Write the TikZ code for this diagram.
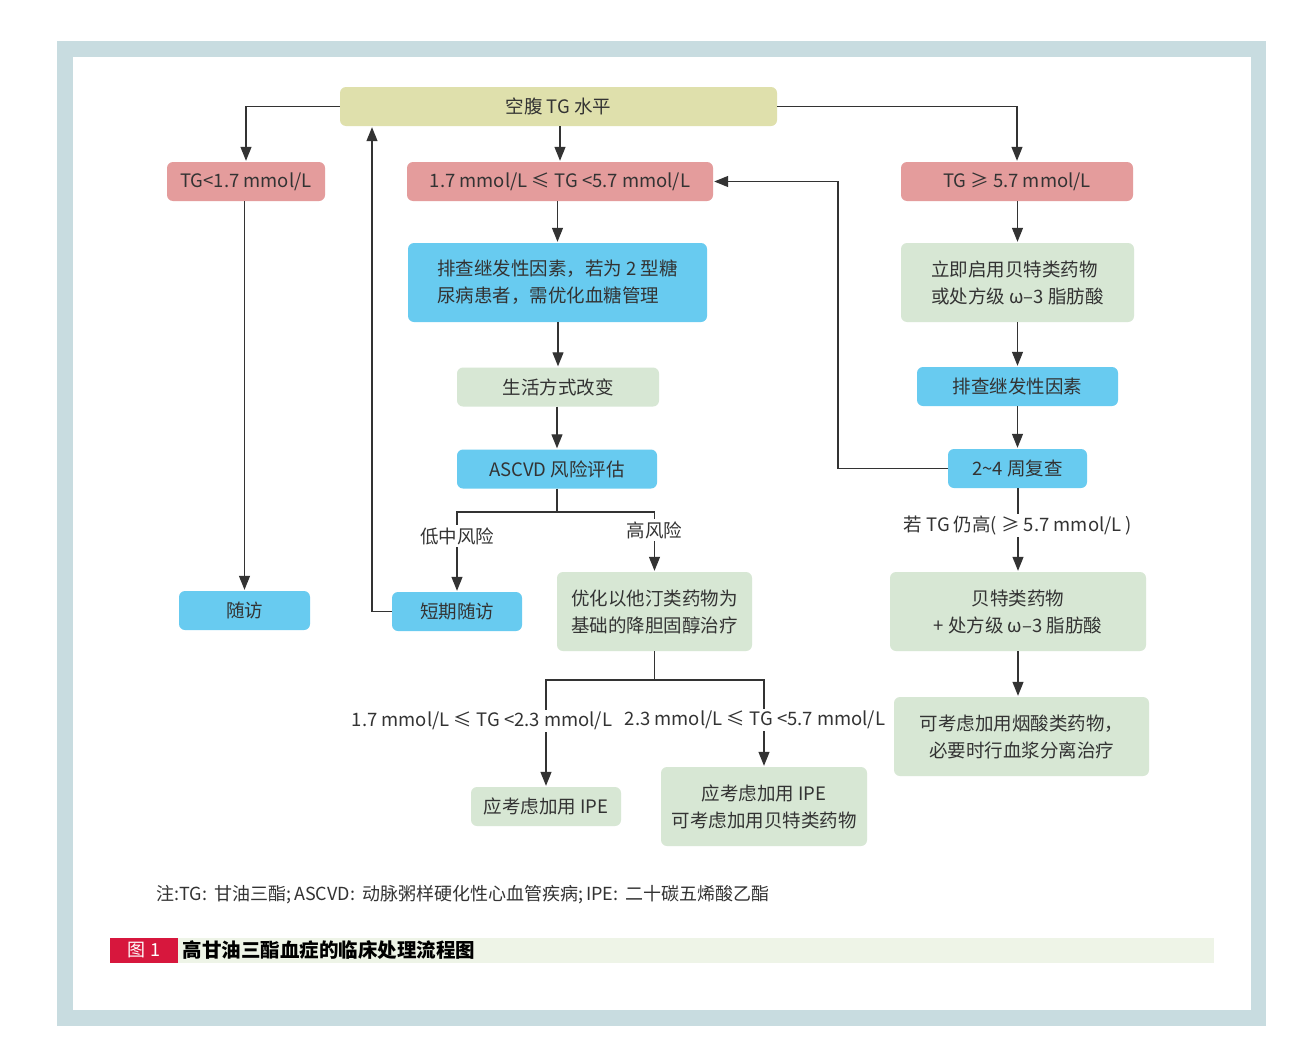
\documentclass[tikz,border=0pt]{standalone}
\usepackage{fontspec}
\setmainfont{Noto Sans CJK SC}
\usetikzlibrary{arrows.meta}
\definecolor{topyellow}{HTML}{DFE0AC}
\definecolor{tgpink}{HTML}{E49C9C}
\definecolor{stepblue}{HTML}{68CBF0}
\definecolor{treatgreen}{HTML}{D7E7D4}
\definecolor{framegray}{HTML}{C8DCE0}
\definecolor{capgreen}{HTML}{EEF4E7}
\definecolor{capred}{HTML}{D7173D}
\definecolor{textgray}{HTML}{333333}
\definecolor{linegray}{HTML}{333333}
\begin{document}
\begin{tikzpicture}[
  x=1pt, y=-1pt,
  every node/.style={text=textgray, font=\fontsize{18.5}{27}\selectfont},
  flowbox/.style={rounded corners=6pt, minimum height=39pt, inner sep=0pt, align=center},
  topbox/.style={flowbox, fill=topyellow},
  tgbox/.style={flowbox, fill=tgpink},
  bluebox/.style={flowbox, fill=stepblue},
  greenbox/.style={flowbox, fill=treatgreen},
  edgelab/.style={fill=white, inner sep=2pt},
  arr/.style={draw=linegray, line width=1.2pt, -{Triangle[width=11pt,length=14pt]}, shorten >=1pt},
  link/.style={draw=linegray, line width=1.2pt}
]
\useasboundingbox (0,0) rectangle (1312,1060);
\fill[framegray] (57,41) rectangle (1266,1026);
\fill[white] (73,57) rectangle (1251,1010);

\node[topbox, minimum width=437pt] (fasting) at (558.5,106.5) {空腹 TG 水平};
\node[tgbox, minimum width=158pt] (lowtg) at (246,181.5) {TG<1.7 mmol/L};
\node[tgbox, minimum width=306pt] (midtg) at (560,181.5) {1.7 mmol/L ≤ TG <5.7 mmol/L};
\node[tgbox, minimum width=232pt] (hightg) at (1017,181.5) {TG ≥ 5.7 mmol/L};

\node[bluebox, minimum width=299pt, minimum height=79pt, align=left] (secondary) at (557.5,282.5) {排查继发性因素，若为 2 型糖\\尿病患者，需优化血糖管理};
\node[greenbox, minimum width=233pt, minimum height=79pt, align=left] (fibrate) at (1017.5,282.5) {立即启用贝特类药物\\或处方级 ω–3 脂肪酸};
\node[greenbox, minimum width=202pt] (lifestyle) at (558,387) {生活方式改变};
\node[bluebox, minimum width=201pt] (screen) at (1017.5,386.5) {排查继发性因素};
\node[bluebox, minimum width=200pt] (ascvd) at (557,469) {ASCVD 风险评估};
\node[bluebox, minimum width=139pt] (recheck) at (1017.5,468.5) {2\textasciitilde4 周复查};

\node[bluebox, minimum width=131pt] (followup) at (244.5,610.5) {随访};
\node[bluebox, minimum width=130pt] (shortfu) at (457,611.5) {短期随访};
\node[greenbox, minimum width=195pt, minimum height=79pt] (statin) at (654.5,611.5) {优化以他汀类药物为\\基础的降胆固醇治疗};
\node[greenbox, minimum width=256pt, minimum height=79pt] (combo) at (1018,611.5) {贝特类药物\\+ 处方级 ω–3 脂肪酸};
\node[greenbox, minimum width=255pt, minimum height=79pt] (niacin) at (1021.5,736.5) {可考虑加用烟酸类药物，\\必要时行血浆分离治疗};
\node[greenbox, minimum width=150pt] (ipeone) at (546,806.5) {应考虑加用 IPE};
\node[greenbox, minimum width=206pt, minimum height=79pt] (ipetwo) at (764,806.5) {应考虑加用 IPE\\可考虑加用贝特类药物};

\coordinate (backup) at (372,0);
\coordinate (loopx) at (838,0);
\coordinate (riskfork) at (557,512);
\coordinate (statfork) at (654.5,680);

\draw[arr] (fasting.west) -| (lowtg.north);
\draw[arr] (fasting.south -| midtg.north) -- (midtg.north);
\draw[arr] (fasting.east) -| (hightg.north);
\draw[arr] (lowtg.south -| followup.north) -- (followup.north);
\draw[arr] (shortfu.west) -| (backup |- fasting.south);
\draw[arr] (recheck.west) -| (loopx |- midtg.east) -- (midtg.east);

\draw[arr] (midtg.south -| secondary.north) -- (secondary.north);
\draw[arr] (secondary.south -| lifestyle.north) -- (lifestyle.north);
\draw[arr] (lifestyle.south -| ascvd.north) -- (ascvd.north);
\draw[link] (ascvd.south) -- (riskfork);
\draw[arr] (riskfork) -| node[edgelab, pos=0.65] {低中风险} (shortfu.north);
\draw[arr] (riskfork) -| node[edgelab, pos=0.65] {高风险} (statin.north);
\draw[link] (statin.south) -- (statfork);
\draw[arr] (statfork) -| node[edgelab, pos=0.69, xshift=-64pt] {1.7 mmol/L ≤ TG <2.3 mmol/L} (ipeone.north);
\draw[arr] (statfork) -| node[edgelab, pos=0.73, xshift=-9pt] {2.3 mmol/L ≤ TG <5.7 mmol/L} (ipetwo.north);

\draw[arr] (hightg.south -| fibrate.north) -- (fibrate.north);
\draw[arr] (fibrate.south -| screen.north) -- (screen.north);
\draw[arr] (screen.south -| recheck.north) -- (recheck.north);
\draw[arr] (recheck.south -| combo.north) -- node[edgelab, pos=0.45] {若 TG 仍高( ≥ 5.7 mmol/L )} (combo.north);
\draw[arr] (combo.south) -- (combo.south |- niacin.north);

\node[anchor=west, font=\fontsize{18}{20}\selectfont] (note) at (153,895) {注:TG:\, 甘油三酯;\,ASCVD:\, 动脉粥样硬化性心血管疾病;\,IPE:\, 二十碳五烯酸乙酯};
\fill[capgreen] (110,938) rectangle (1214,963);
\fill[capred] (110,938) rectangle (178,963);
\node[text=white, font=\fontsize{18}{20}\selectfont] (fignum) at (144,950.5) {图 1};
\node[anchor=west, text=black, font=\fontsize{19.5}{20}\selectfont\bfseries] (caption) at (179,950.5) {高甘油三酯血症的临床处理流程图};
\end{tikzpicture}
\end{document}
